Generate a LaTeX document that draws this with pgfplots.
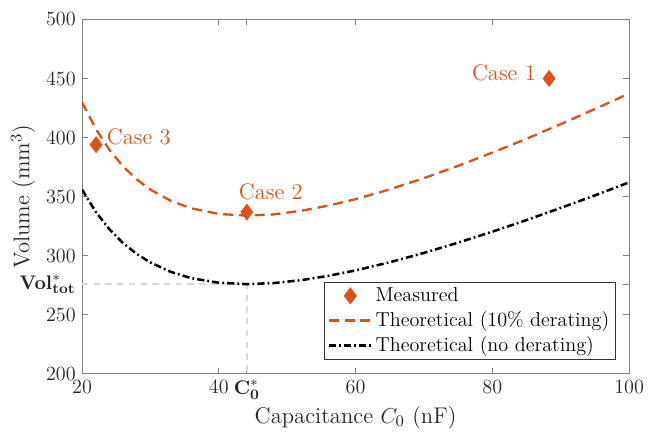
\documentclass[border=0pt]{standalone}
\usepackage{pgfplots}
\pgfplotsset{compat=1.18}
\definecolor{mred}{RGB}{217,83,25}
\definecolor{guide}{RGB}{217,217,217}
\definecolor{axgray}{RGB}{128,128,128}
\definecolor{txt}{RGB}{38,38,38}
\pgfplotsset{
    markleg/.style={legend image code/.code={\draw[##1] plot coordinates {(0.42cm,0cm)};}},
    lineleg/.style={legend image code/.code={\draw[##1] (0cm,0cm) -- (0.82cm,0cm);}},
}

\begin{document}
\begin{tikzpicture}
\begin{axis}[
    scale only axis,
    width=304pt,
    height=197pt,
    xmin=20, xmax=100,
    ymin=200, ymax=500,
    xtick={20,40,44.1,60,80,100},
    xticklabels={20,40,$\mathbf{C}_{\mathbf{0}}^{*}$,60,80,100},
    ytick={200,250,276,300,350,400,450,500},
    yticklabels={200,250,$\mathbf{Vol}^{*}_{\mathbf{tot}}$,300,350,400,450,500},
    tick align=inside,
    major tick length=3.3pt,
    axis line style={axgray, line width=0.6pt},
    tick style={axgray, line width=0.6pt},
    tick label style={font=\fontsize{11.2}{13}\selectfont, text=txt},
    label style={font=\fontsize{12.6}{14}\selectfont, text=txt},
    xlabel={Capacitance $C_0$ (nF)},
    ylabel={Volume (mm$^3$)},
    xlabel style={at={(axis description cs:0.5,-0.124)}, anchor=center},
    ylabel style={at={(axis description cs:-0.108,0.5)}, anchor=center},
    legend style={
        at={(0.976,0.039)},
        anchor=south east,
        font=\fontsize{11.2}{13}\selectfont,
        draw=black!80,
        line width=0.5pt,
        cells={anchor=west},
        inner xsep=1.5pt, inner ysep=1pt,
    },
]

% guide lines at the optimum
\addplot[guide, line width=1.1pt, dash pattern=on 3.5pt off 3pt, forget plot]
    coordinates {(20,276) (44.1,276) (44.1,200)};

% measured cases
\addplot[only marks, mark=diamond*, mark size=4.4pt, color=mred, fill=mred, markleg]
    coordinates {(22.05,394) (44.1,337) (88.3,450)};

% theoretical, 10% derating
\addplot[mred, line width=1.3pt, dash pattern=on 5.5pt off 3.3pt, lineleg]
    coordinates {
    (20,430.0) (22,407.4) (24,389.6) (26,375.6) (28,364.6) (30,356.0)
    (33,346.4) (36,340.1) (40,335.4) (44,334.0) (48,335.0) (52,338.0)
    (56,342.4) (60,347.9) (65,356.2) (70,365.7) (75,376.1) (80,387.3)
    (85,399.0) (90,411.4) (95,424.2) (100,437.3)
    };

% theoretical, no derating
\addplot[black, line width=1.4pt, dash pattern=on 4pt off 1.7pt on 1pt off 1.7pt, lineleg]
    coordinates {
    (20,356.0) (22,337.2) (24,322.4) (26,310.7) (28,301.5) (30,294.3)
    (33,286.3) (36,281.0) (40,277.2) (44,276.0) (48,276.9) (52,279.3)
    (56,283.0) (60,287.6) (65,294.5) (70,302.4) (75,311.1) (80,320.4)
    (85,330.2) (90,340.5) (95,351.1) (100,362.1)
    };

\legend{Measured, Theoretical (10\% derating), Theoretical (no derating)}

\node[text=mred, font=\fontsize{12.5}{14}\selectfont] at (axis cs:28.3,400.3) {Case 3};
\node[text=mred, font=\fontsize{12.5}{14}\selectfont] at (axis cs:47.6,353.8) {Case 2};
\node[text=mred, font=\fontsize{12.5}{14}\selectfont] at (axis cs:81.7,455) {Case 1};

\end{axis}
\pgfresetboundingbox
\path (-45.6pt,-33.9pt) rectangle (319.5pt,207.8pt);
\end{tikzpicture}
\end{document}
